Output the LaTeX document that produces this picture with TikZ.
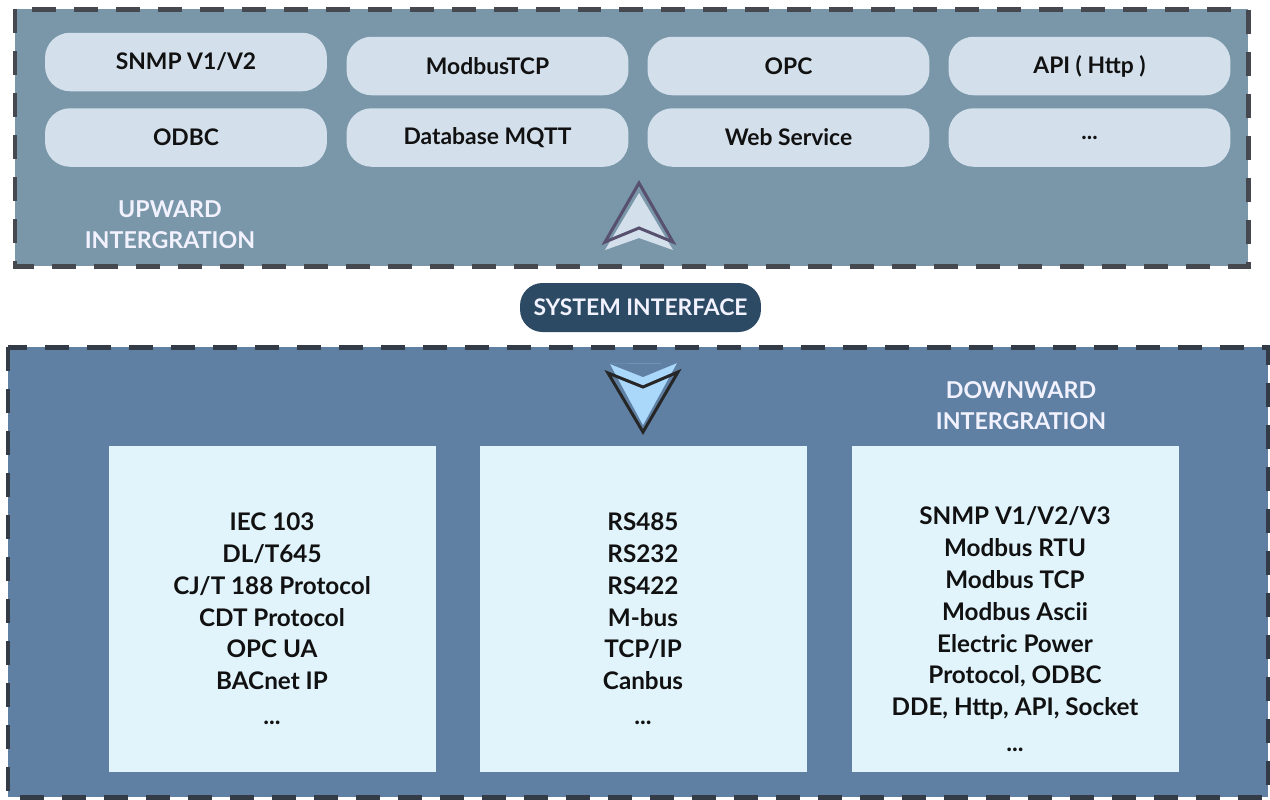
\documentclass[tikz,border=0pt]{standalone}
\usepackage{fontspec}
\setmainfont{Lato}
\definecolor{upfill}{HTML}{7A97A9}
\definecolor{downfill}{HTML}{5F80A3}
\definecolor{pillfill}{HTML}{D3E0EC}
\definecolor{boxfill}{HTML}{E1F4FC}
\definecolor{dashgray}{HTML}{45494F}
\definecolor{dashdark}{HTML}{333C46}
\definecolor{ifacefill}{HTML}{2C4A63}
\definecolor{uparrowline}{HTML}{57506E}
\definecolor{downarrowfill}{HTML}{A9D8FB}
\definecolor{inktext}{HTML}{111111}

\begin{document}
\begin{tikzpicture}
	[x=0.02cm, y=-0.02cm,
	 panel/.style={line width=0.1cm, dash pattern=on 0.48cm off 0.36cm},
	 pill/.style={fill=pillfill, rounded corners=0.5cm, minimum width=5.64cm, minimum height=1.17cm, inner sep=0pt, text=inktext, font=\fontsize{13}{16}\selectfont\bfseries},
	 protobox/.style={fill=boxfill, minimum width=6.54cm, minimum height=6.52cm, inner sep=0pt},
	 protolist/.style={align=center, text=inktext, font=\fontsize{13.8}{18.1}\selectfont\bfseries},
	 caption/.style={align=center, text=white!95!blue, font=\fontsize{13.2}{17.6}\selectfont\bfseries}];

	\useasboundingbox (0,0) rectangle (1270,799);

	%Panels
	\fill[upfill] (15,9) rectangle (1248,266);
	\draw[panel, draw=dashgray] (15,9) rectangle (1248,266);
	\fill[downfill] (8,347) rectangle (1268,797);
	\draw[panel, draw=dashdark] (8,347) rectangle (1268,797);

	%Upward protocols
	\node[pill] (snmp) at (186,62) {SNMP V1/V2};
	\node[pill] (modbustcp) at (487.5,66) {ModbusTCP};
	\node[pill] (opc) at (788.5,66) {OPC};
	\node[pill] (api) at (1089.5,66) {API ( Http )};
	\node[pill] (odbc) at (186,137.5) {ODBC};
	\node[pill] (dbmqtt) at (487.5,137.5) {Database MQTT};
	\node[pill] (websvc) at (788.5,137.5) {Web Service};
	\node[pill] (more) at (1089.5,137.5) {...};

	\node[caption] (upward) at (170,225) {UPWARD\\INTERGRATION};

	\fill[pillfill] (639,193) -- (673,250) -- (639,238) -- (605,250) -- cycle;
	\draw[uparrowline, line width=0.06cm] (639,183) -- (673,242) -- (639,228) -- (605,242) -- cycle;

	%Interface
	\node[fill=ifacefill, rounded corners=0.45cm, minimum width=4.82cm, minimum height=0.98cm, text=white!95!blue, font=\fontsize{13}{16}\selectfont\bfseries] (iface) at (640.5,307.5) {SYSTEM INTERFACE};

	%Downward protocols
	\fill[downarrowfill] (610,364) -- (677,363) -- (643,425) -- cycle;
	\draw[black!85, line width=0.06cm] (608,373) -- (643,387) -- (678,372) -- (643,432) -- cycle;
	\fill[downfill] (610,364) -- (643,377) -- (677,363) -- cycle;

	\node[caption] (downward) at (1021,406) {DOWNWARD\\INTERGRATION};

	\node[protobox] (box1) at (272.5,609) {};
	\node[protobox] (box2) at (643.5,609) {};
	\node[protobox] (box3) at (1015.5,609) {};

	\node[protolist] (list1) at (272,619) {IEC 103\\DL/T645\\CJ/T 188 Protocol\\CDT Protocol\\OPC UA\\BACnet IP\\[2pt]...};
	\node[protolist] (list2) at (643,619) {RS485\\RS232\\RS422\\M-bus\\TCP/IP\\Canbus\\[2pt]...};
	\node[protolist] (list3) at (1015,629) {SNMP V1/V2/V3\\Modbus RTU\\Modbus TCP\\Modbus Ascii\\Electric Power\\Protocol, ODBC\\DDE, Http, API, Socket\\[2pt]...};
\end{tikzpicture}
\end{document}
